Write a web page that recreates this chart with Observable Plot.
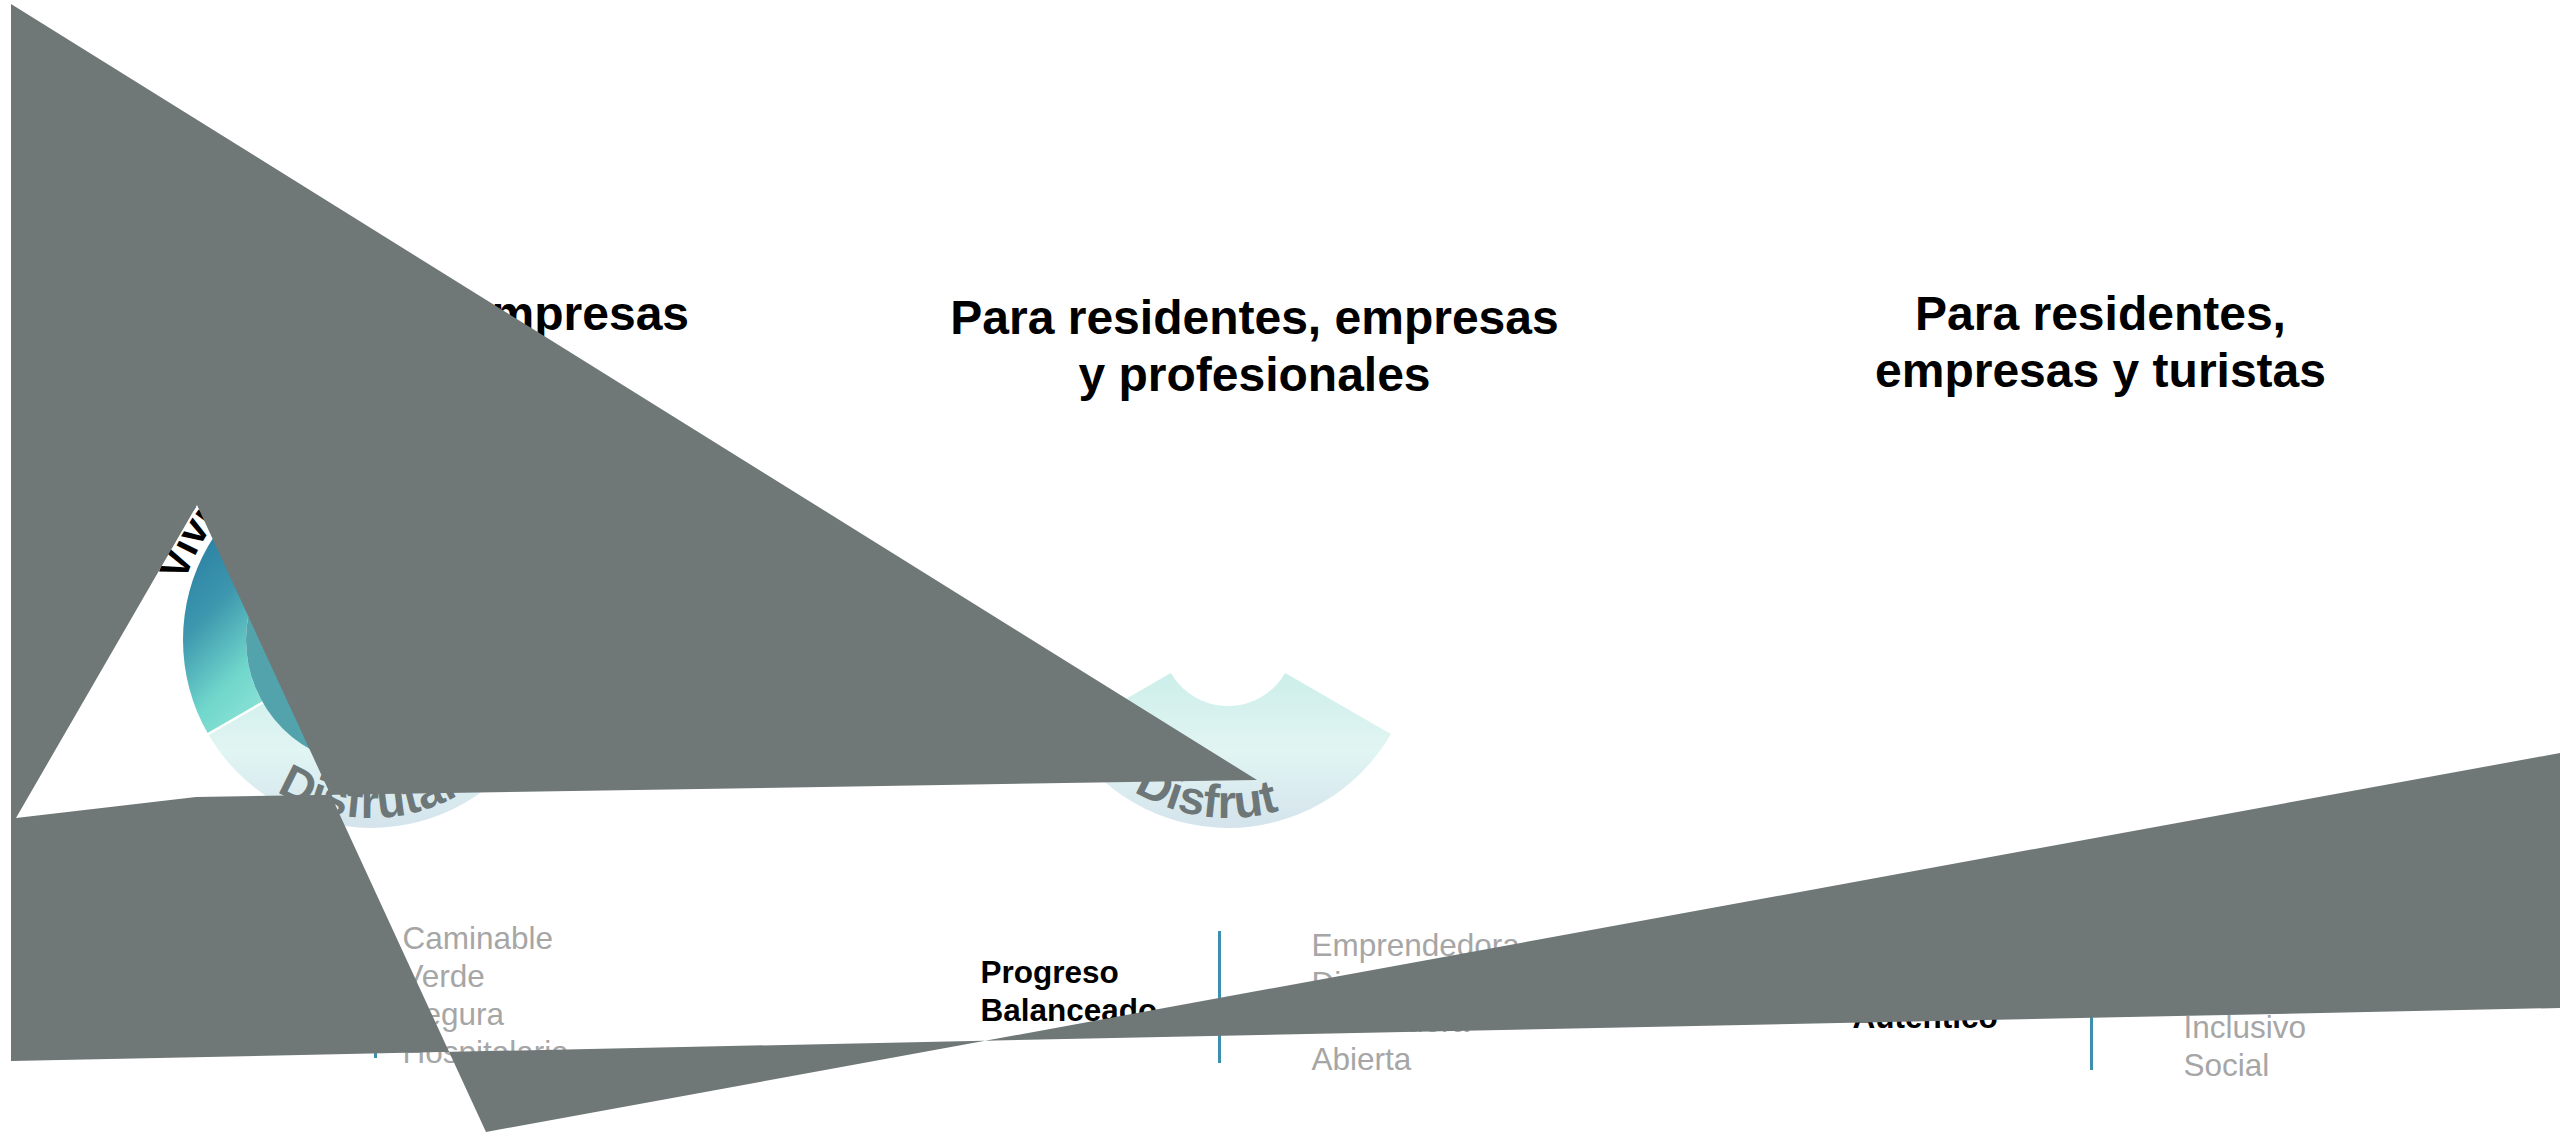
<!DOCTYPE html>
<html lang="es">
<head>
<meta charset="utf-8">
<title>Vivir · Trabajar · Disfrutar</title>
<script src="https://cdn.jsdelivr.net/npm/d3@7"></script>
<script src="https://cdn.jsdelivr.net/npm/@observablehq/plot@0.6"></script>
<style>
  html, body { margin: 0; padding: 0; background: #ffffff; overflow: hidden; }
  #chart svg { display: block; }
</style>
</head>
<body>
<div id="chart"></div>
<script>
// ================= DATA =================
const titleLines = [
  ["Para residentes y empresas"],
  ["Para residentes, empresas", "y profesionales"],
  ["Para residentes,", "empresas y turistas"]
];
const pillars = ["Vivir", "Trabajar", "Disfrutar"];
const visibleSegments = [["Vivir", "Trabajar", "Disfrutar"], ["Disfrutar"], []];
const highlighted = ["Vivir", null, null];
const segmentLabels = [["Vivir", "Disfrutar"], ["Disfrutar"], []];
const groupLabels = [
  ["Calidad", "de Vida"],
  ["Progreso", "Balanceado"],
  ["Carácter", "Auténtico"]
];
const attributes = [
  ["Caminable", "Verde", "Segura", "Hospitalaria"],
  ["Emprendedora", "Dinámica", "Innovadora", "Abierta"],
  ["Cultural", "Diverso", "Inclusivo", "Social"]
];
const overlayPolygon = [
  [11, 4], [1257, 780], [196, 797], [16, 818], [197, 505],
  [486, 1132], [2560, 753], [2560, 1008], [11, 1061]
];

// ================= LAYOUT / STYLE =================
const W = 2560, H = 1138;
const FONT = "'Liberation Sans', Arial, Helvetica, sans-serif";
const layout = {
  titleX: [371, 1254, 2100],
  titleY: [329, 333, 329],
  titleStep: 57,
  donuts: [{cx: 371, cy: 640}, {cx: 1228, cy: 640}, null],
  rIn: 66, rMid: 125, rOut: 188,
  ringTextR: 178, outerTextR: 195,
  ringLabelStart: 122,            // screen degrees where the ring label begins
  ringLabelEnd: [30, 70],         // where each donut's ring label path ends
  segAngles: {Vivir: [150, 270], Trabajar: [270, 390], Disfrutar: [30, 150]}, // screen degrees, clockwise from 3 o'clock
  labelX: [130, 980, 1852], labelY: [975, 982, 989], labelStep: 38,
  ruleX: [375, 1219, 2091], ruleY1: [924, 931, 937], ruleY2: [1058, 1063, 1070],
  itemX: [402, 1311, 2183], itemY: [948, 955, 961], itemStep: 38.3
};
const style = {
  titleSize: 48, labelSize: 31.5, itemSize: 31.5, ringSize: 47, outerSize: 40,
  itemColor: "#a6a6a6", ruleColor: "#3d8fae", overlay: "#6f7777",
  ringText: "#6e7778", inner: "#53a3ac", plain: "#d9eef0"
};

// ================= MARKS =================
const rad = deg => deg * Math.PI / 180;
const d3Angle = deg => rad(deg + 90);

function donutMark(col) {
  return (index, scales) => {
    const spec = layout.donuts[col];
    const g = d3.create("svg:g")
      .attr("transform", `translate(${scales.x(spec.cx)},${scales.y(spec.cy)})`);
    const defs = g.append("defs");
    const hi = defs.append("linearGradient").attr("id", `hiGrad${col}`)
      .attr("gradientUnits", "userSpaceOnUse")
      .attr("x1", -200).attr("y1", -110).attr("x2", -50).attr("y2", 40);
    [[0, "#2777a0"], [0.15, "#2c83a4"], [0.4, "#3d97ae"], [0.7, "#70d6cb"], [0.9, "#8ae2d5"], [1, "#92e5d8"]]
      .forEach(([o, c]) => hi.append("stop").attr("offset", o).attr("stop-color", c));
    const lo = defs.append("linearGradient").attr("id", `loGrad${col}`)
      .attr("gradientUnits", "userSpaceOnUse")
      .attr("x1", 0).attr("y1", 30).attr("x2", 0).attr("y2", 190);
    [[0, "#cbeee9"], [0.5, "#e1f5f3"], [1, "#d4e3ec"]]
      .forEach(([o, c]) => lo.append("stop").attr("offset", o).attr("stop-color", c));

    const arc = d3.arc();
    const hasInner = highlighted[col] != null;
    for (const name of visibleSegments[col]) {
      const [a0, a1] = layout.segAngles[name];
      const isHi = highlighted[col] === name;
      const inner = (name === "Disfrutar") ? layout.rIn : layout.rMid;
      g.append("path")
        .attr("d", arc({innerRadius: inner, outerRadius: layout.rOut, startAngle: d3Angle(a0), endAngle: d3Angle(a1)}))
        .attr("fill", isHi ? `url(#hiGrad${col})` : (name === "Disfrutar" ? `url(#loGrad${col})` : style.plain));
    }
    if (hasInner) {
      g.append("path")
        .attr("d", arc({innerRadius: layout.rIn, outerRadius: layout.rMid, startAngle: 0, endAngle: 2 * Math.PI}))
        .attr("fill", style.inner);
      for (const name of visibleSegments[col]) {
        const a = rad(layout.segAngles[name][0]);
        g.append("line")
          .attr("x1", layout.rMid * Math.cos(a)).attr("y1", layout.rMid * Math.sin(a))
          .attr("x2", (layout.rOut + 1) * Math.cos(a)).attr("y2", (layout.rOut + 1) * Math.sin(a))
          .attr("stroke", "#ffffff").attr("stroke-width", 2.5);
      }
    }
    // curved labels
    for (const name of segmentLabels[col]) {
      const [a0, a1] = layout.segAngles[name];
      const isHi = highlighted[col] === name;
      const id = `lab-${col}-${name}`;
      let d, anchor, offset;
      if (isHi) {
        const r = layout.outerTextR;
        const p0 = [r * Math.cos(rad(a0)), r * Math.sin(rad(a0))];
        const p1 = [r * Math.cos(rad(a1)), r * Math.sin(rad(a1))];
        d = `M${p0[0]},${p0[1]} A${r},${r} 0 0 1 ${p1[0]},${p1[1]}`;
        anchor = "middle"; offset = "50%";
      } else {
        const r = layout.ringTextR;
        const s = layout.ringLabelStart, e = layout.ringLabelEnd[col];
        const p0 = [r * Math.cos(rad(s)), r * Math.sin(rad(s))];
        const p1 = [r * Math.cos(rad(e)), r * Math.sin(rad(e))];
        d = `M${p0[0]},${p0[1]} A${r},${r} 0 0 0 ${p1[0]},${p1[1]}`;
        anchor = "start"; offset = "0";
      }
      defs.append("path").attr("id", id).attr("d", d);
      g.append("text")
        .attr("font-family", FONT).attr("font-weight", "bold")
        .attr("font-size", isHi ? style.outerSize : style.ringSize)
        .attr("fill", isHi ? "#000000" : style.ringText)
        .append("textPath").attr("href", `#${id}`)
        .attr("startOffset", offset).attr("text-anchor", anchor)
        .text(name);
    }
    return g.node();
  };
}

function overlayMark(points) {
  return (index, scales) => {
    const line = d3.line().x(p => scales.x(p[0])).y(p => scales.y(p[1]));
    return d3.create("svg:path")
      .attr("d", line(points) + "Z")
      .attr("fill", style.overlay)
      .attr("fill-rule", "evenodd")
      .node();
  };
}

const titleRows = titleLines.flatMap((lines, c) => lines.map((t, i) => ({c, i, t})));
const labelRows = groupLabels.flatMap((lines, c) => lines.map((t, i) => ({c, i, t})));
const itemRows = attributes.flatMap((items, c) => items.map((t, i) => ({c, i, t})));
const cols = [0, 1, 2];

const chart = Plot.plot({
  width: W, height: H,
  marginTop: 0, marginRight: 0, marginBottom: 0, marginLeft: 0,
  x: {domain: [0, W], range: [0, W], axis: null},
  y: {domain: [0, H], range: [0, H], axis: null},
  style: {background: "#ffffff"},
  marks: [
    donutMark(0),
    donutMark(1),
    Plot.text(titleRows, {
      x: d => layout.titleX[d.c], y: d => layout.titleY[d.c] + d.i * layout.titleStep,
      text: "t", textAnchor: "middle", lineAnchor: "bottom",
      fontFamily: FONT, fontWeight: "bold", fontSize: style.titleSize, fill: "#000000"
    }),
    Plot.text(labelRows, {
      x: d => layout.labelX[d.c], y: d => layout.labelY[d.c] + d.i * layout.labelStep,
      text: "t", textAnchor: "start", lineAnchor: "bottom",
      fontFamily: FONT, fontWeight: "bold", fontSize: style.labelSize, fill: "#000000"
    }),
    Plot.ruleX(cols, {
      x: c => layout.ruleX[c], y1: c => layout.ruleY1[c], y2: c => layout.ruleY2[c],
      stroke: style.ruleColor, strokeWidth: 3
    }),
    Plot.text(itemRows, {
      x: d => layout.itemX[d.c], y: d => layout.itemY[d.c] + d.i * layout.itemStep,
      text: "t", textAnchor: "start", lineAnchor: "bottom",
      fontFamily: FONT, fontSize: style.itemSize, fill: style.itemColor
    }),
    overlayMark(overlayPolygon)
  ]
});
document.getElementById("chart").append(chart);
</script>
</body>
</html>
